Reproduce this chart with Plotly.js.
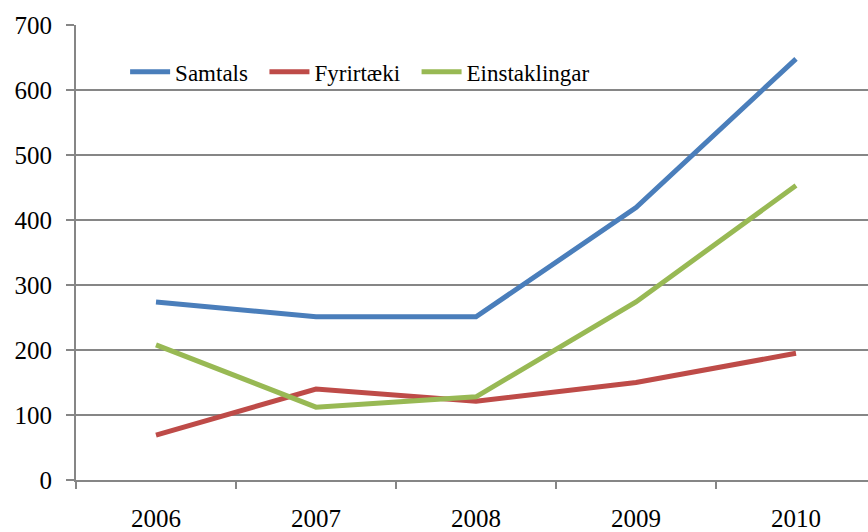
<!DOCTYPE html>
<html>
<head>
<meta charset="utf-8">
<script src="https://cdn.plot.ly/plotly-3.0.1.min.js"></script>
<style>html,body{margin:0;padding:0;background:#fff;}#chart{width:868px;height:532px;}</style>
</head>
<body>
<div id="chart"></div>
<script>
const years = ["2006", "2007", "2008", "2009", "2010"];
const samtals = [274, 251, 251, 419, 648];
const fyrirtaeki = [69, 140, 121, 150, 195];
const einstaklingar = [208, 112, 128, 274, 453];
const seriesNames = ["Samtals", "Fyrirtæki", "Einstaklingar"];
const yTicks = [0, 100, 200, 300, 400, 500, 600, 700];

const colors = ["#4a7ebb", "#be4b48", "#98b954"];
const pad = "\u00a0\u00a0";
const data = [samtals, fyrirtaeki, einstaklingar].map((v, i) => ({
  x: years, y: v, type: "scatter", mode: "lines",
  name: seriesNames[i] + (i < 2 ? pad : ""),
  line: {color: colors[i], width: 5}, cliponaxis: true
}));

const FONT = "Liberation Serif";
const layout = {
  width: 868, height: 532,
  margin: {l: 76, r: 0, t: 25, b: 52, pad: 0},
  paper_bgcolor: "#fff", plot_bgcolor: "#fff",
  font: {family: FONT, size: 25, color: "#000"},
  showlegend: true,
  legend: {orientation: "h", x: 0.062, xanchor: "left", y: 0.897, yanchor: "middle",
    font: {family: FONT, size: 23}, bgcolor: "rgba(0,0,0,0)", itemwidth: 40, tracegroupgap: 0},
  xaxis: {type: "category", range: [-0.5, 4.45], showgrid: false,
    tickfont: {family: FONT, size: 25},
    showline: true, linecolor: "#868686", linewidth: 2,
    ticks: "outside", tickson: "boundaries", ticklen: 7, tickwidth: 2, tickcolor: "#868686",
    ticklabelstandoff: 15, zeroline: false, fixedrange: true},
  yaxis: {range: [0, 700], tickvals: yTicks, ticktext: yTicks.map(String),
    tickfont: {family: FONT, size: 25},
    showgrid: true, gridcolor: "#868686", gridwidth: 2,
    showline: true, linecolor: "#868686", linewidth: 2,
    ticks: "outside", ticklen: 8, tickwidth: 2, tickcolor: "#868686",
    ticklabelstandoff: 9, zeroline: false, fixedrange: true}
};
Plotly.newPlot("chart", data, layout, {staticPlot: true, displayModeBar: false});
</script>
</body>
</html>
